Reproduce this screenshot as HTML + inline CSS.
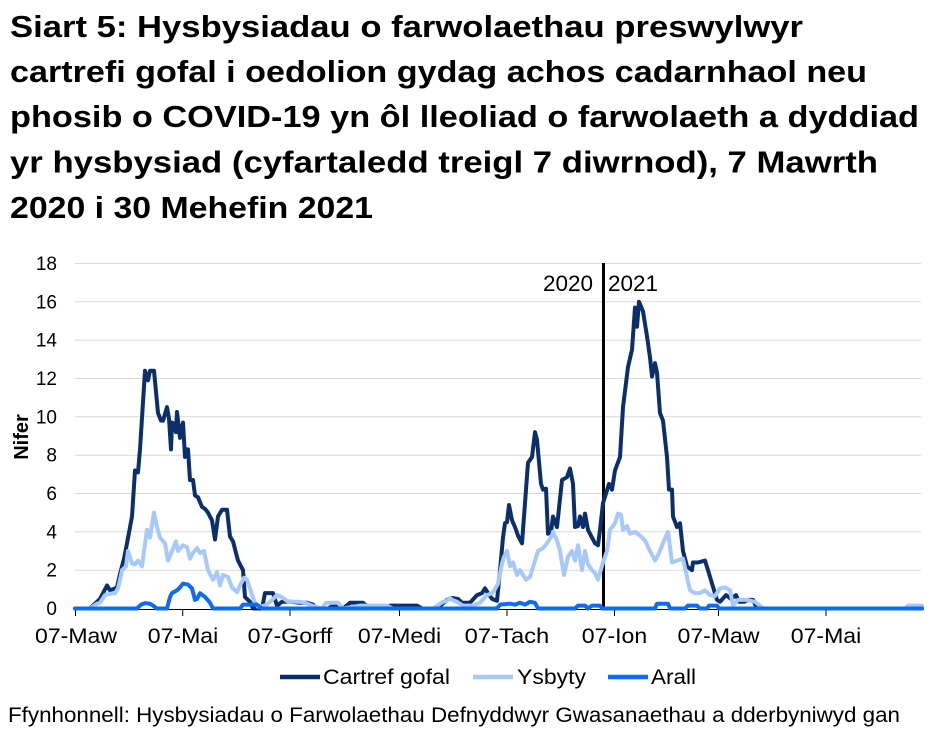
<!DOCTYPE html>
<html><head><meta charset="utf-8"><style>
html,body{margin:0;padding:0;background:#fff;}
svg{display:block;}
text{font-family:"Liberation Sans",Arial,sans-serif;fill:#000;}
</style></head><body>
<svg width="931" height="736" viewBox="0 0 931 736" xmlns="http://www.w3.org/2000/svg">
<rect width="931" height="736" fill="#fff"/>
<!-- Title -->
<g font-weight="bold" font-size="31">
<text x="10" y="37" textLength="793" lengthAdjust="spacingAndGlyphs">Siart 5: Hysbysiadau o farwolaethau preswylwyr</text>
<text x="10" y="82" textLength="857" lengthAdjust="spacingAndGlyphs">cartrefi gofal i oedolion gydag achos cadarnhaol neu</text>
<text x="10" y="127" textLength="909" lengthAdjust="spacingAndGlyphs">phosib o COVID-19 yn ôl lleoliad o farwolaeth a dyddiad</text>
<text x="10" y="172.5" textLength="868" lengthAdjust="spacingAndGlyphs">yr hysbysiad (cyfartaledd treigl 7 diwrnod), 7 Mawrth</text>
<text x="10" y="218" textLength="363" lengthAdjust="spacingAndGlyphs">2020 i 30 Mehefin 2021</text>
</g>
<!-- gridlines -->
<g stroke="#d9d9d9" stroke-width="1">
<line x1="75" x2="921" y1="263.5" y2="263.5"/>
<line x1="75" x2="921" y1="301.8" y2="301.8"/>
<line x1="75" x2="921" y1="340.2" y2="340.2"/>
<line x1="75" x2="921" y1="378.5" y2="378.5"/>
<line x1="75" x2="921" y1="416.8" y2="416.8"/>
<line x1="75" x2="921" y1="455.2" y2="455.2"/>
<line x1="75" x2="921" y1="493.5" y2="493.5"/>
<line x1="75" x2="921" y1="531.8" y2="531.8"/>
<line x1="75" x2="921" y1="570.2" y2="570.2"/>
</g>
<!-- y tick labels -->
<g font-size="19" text-anchor="end">
<text x="57" y="270">18</text>
<text x="57" y="308.3">16</text>
<text x="57" y="346.7">14</text>
<text x="57" y="385">12</text>
<text x="57" y="423.3">10</text>
<text x="57" y="461.7">8</text>
<text x="57" y="500">6</text>
<text x="57" y="538.3">4</text>
<text x="57" y="576.7">2</text>
<text x="57" y="615">0</text>
</g>
<text font-size="20" font-weight="bold" text-anchor="middle" transform="translate(28,437) rotate(-90)">Nifer</text>
<!-- x axis -->
<line x1="75" x2="922" y1="609.5" y2="609.5" stroke="#000" stroke-width="1"/>
<g stroke="#000" stroke-width="1">
<line x1="75.5" x2="75.5" y1="609" y2="616"/>
<line x1="182.7" x2="182.7" y1="609" y2="616"/>
<line x1="290" x2="290" y1="609" y2="616"/>
<line x1="399.5" x2="399.5" y1="609" y2="616"/>
<line x1="507" x2="507" y1="609" y2="616"/>
<line x1="614.5" x2="614.5" y1="609" y2="616"/>
<line x1="718.5" x2="718.5" y1="609" y2="616"/>
<line x1="826" x2="826" y1="609" y2="616"/>
</g>
<g font-size="21" text-anchor="middle">
<text x="76" y="643" textLength="82" lengthAdjust="spacingAndGlyphs">07-Maw</text>
<text x="183" y="643" textLength="70.5" lengthAdjust="spacingAndGlyphs">07-Mai</text>
<text x="290" y="643" textLength="84.6" lengthAdjust="spacingAndGlyphs">07-Gorff</text>
<text x="399.5" y="643" textLength="83.3" lengthAdjust="spacingAndGlyphs">07-Medi</text>
<text x="507" y="643" textLength="84.6" lengthAdjust="spacingAndGlyphs">07-Tach</text>
<text x="614.5" y="643" textLength="65.4" lengthAdjust="spacingAndGlyphs">07-Ion</text>
<text x="718.5" y="643" textLength="82" lengthAdjust="spacingAndGlyphs">07-Maw</text>
<text x="826" y="643" textLength="70.5" lengthAdjust="spacingAndGlyphs">07-Mai</text>
</g>
<!-- year divider -->
<line x1="603.5" x2="603.5" y1="263" y2="609" stroke="#000" stroke-width="3"/>
<text x="593" y="291" font-size="22" text-anchor="end" textLength="50" lengthAdjust="spacingAndGlyphs">2020</text>
<text x="608" y="291" font-size="22" textLength="50" lengthAdjust="spacingAndGlyphs">2021</text>
<!-- series -->
<g transform="translate(0,608.5) scale(1,-19.17)" fill="none" stroke-linejoin="round" stroke-linecap="round">
<polyline vector-effect="non-scaling-stroke" stroke="#0a2f6b" stroke-width="4" points="75,0 90,0 100,0.5 107,1.2 110,0.95 113,1.0 117,1.1 120,1.8 124,2.6 127,3.4 132,4.8 135,7.2 138,7.1 140,8.3 145,12.4 148,11.9 150,12.4 154,12.4 158,10.2 161,9.8 163,9.8 167,10.5 169,9.9 171,8.3 172,9.7 174,9.65 176,9.2 177,10.25 180,8.9 183,9.7 185,7.9 187,8.3 188,8.3 190,6.7 193,6.7 195,5.9 198,5.8 202,5.3 205,5.2 208,5.0 212,4.6 215,3.6 218,4.8 222,5.15 227,5.15 230,3.75 233,3.5 238,2.5 243,2.0 245,0.6 250,0.35 253,0 262,0 265,0.8 273,0.8 277,0.15 282,0.35 290,0.35 300,0.3 307,0.3 313,0.2 317,0 328,0 333,0.15 343,0 350,0.3 363,0.3 370,0 385,0 390,0.15 417,0.15 422,0 437,0 447,0.45 452,0.55 458,0.5 462,0.3 470,0.3 477,0.7 482,0.8 485,1.05 488,0.8 492,0.5 497,0.4 500,2.0 503,3.7 505,4.45 507,4.5 509,5.4 512,4.6 515,4.25 518,3.8 522,3.4 525,5.5 528,7.6 532,7.9 535,9.2 537,8.8 541,6.5 543,6.2 546,6.25 548,3.9 551,4.0 553,4.8 557,4.25 562,6.7 567,6.85 570,7.3 573,6.5 575,4.25 578,4.3 580,4.8 583,4.25 585,4.95 588,4.1 592,3.7 595,3.4 598,3.3 600,4.1 603,5.5 606,6.0 609,6.5 612,6.2 615,7.2 620,7.9 623,10.5 628,12.6 632,13.5 635,15.7 637,14.7 639,16.0 643,15.5 647,14.2 650,13.1 652,12.1 655,12.8 657,12.3 660,10.2 663,9.8 667,7.9 669,6.2 672,6.2 673,4.8 677,4.25 680,4.45 683,3.0 687,2.2 692,2.0 693,2.4 698,2.4 705,2.5 708,2.0 712,1.3 717,0.45 720,0.35 726,0.7 731,0.5 736,0.7 739,0.35 744,0.35 748,0.45 753,0.45 757,0 922,0"/>
<polyline vector-effect="non-scaling-stroke" stroke="#a6c8fa" stroke-width="4" points="75,0 90,0 97,0.25 100,0.3 105,0.7 113,0.8 115,0.8 118,1.05 120,1.5 122,2.0 126,2.2 128,3.0 132,2.35 135,2.3 138,2.5 142,2.2 144,3.0 147,4.1 150,3.7 154,5.0 157,4.25 160,3.7 165,3.4 168,2.5 172,3.0 176,3.5 178,3.0 183,3.3 187,3.2 190,2.6 193,2.9 197,3.15 200,2.9 204,3.0 208,2.0 213,1.5 217,1.9 220,1.2 223,1.75 228,1.65 232,1.1 237,0.85 240,1.2 244,1.6 247,1.5 250,1.05 252,0.7 255,0.3 258,0.1 265,0.15 270,0.35 277,0.7 283,0.55 288,0.35 295,0.35 300,0.35 305,0.3 312,0.15 322,0 326,0.3 338,0.3 343,0 360,0.15 377,0.15 387,0.15 393,0 433,0 437,0.15 443,0.35 447,0.4 450,0.55 452,0.45 457,0.35 463,0.15 473,0.15 480,0.3 487,0.7 492,0.8 495,1.0 498,1.3 502,2.35 504,2.7 507,3.0 510,2.2 513,2.4 517,1.75 520,2.0 523,1.75 526,1.5 530,1.65 535,2.5 538,3.0 543,3.15 547,3.4 552,3.8 553,4.0 557,3.55 560,3.0 564,1.75 568,2.7 572,3.0 575,2.5 578,3.3 582,2.0 585,3.0 588,2.3 592,2.0 595,1.85 598,1.5 603,2.4 607,3.0 610,4.1 615,4.45 618,4.95 621,4.9 623,4.1 627,4.3 630,3.9 635,4.0 640,3.8 645,3.55 650,3.0 655,2.5 659,2.9 663,3.4 668,4.0 672,2.4 677,2.5 683,2.6 687,1.65 690,0.95 695,0.8 700,0.8 705,0.95 710,0.7 715,0.65 720,1.05 725,1.1 730,0.95 733,0.15 738,0.45 747,0.45 755,0.35 760,0.15 763,0 905,0 908,0.15 922,0.15"/>
<polyline vector-effect="non-scaling-stroke" stroke="#0d6bf5" stroke-width="4" points="75,0 137,0 141,0.2 145,0.28 150,0.25 153,0.15 157,0 167,0 170,0.6 172,0.8 177,0.95 180,1.1 183,1.3 188,1.25 192,1.05 195,0.45 197,0.5 200,0.8 205,0.6 210,0.3 213,0 240,0 243,0.2 257,0.2 262,0 497,0 500,0.2 510,0.25 515,0.2 520,0.3 525,0.2 530,0.35 535,0.3 538,0 575,0 578,0.15 585,0.15 588,0 592,0.15 600,0.15 602,0 655,0 657,0.25 668,0.25 670,0 685,0 688,0.15 697,0.15 700,0 707,0 709,0.15 717,0.15 719,0 922,0"/>
</g>
<!-- legend -->
<line x1="280" x2="320" y1="677" y2="677" stroke="#0a2f6b" stroke-width="4.5"/>
<text x="323" y="684" font-size="21" textLength="127" lengthAdjust="spacingAndGlyphs">Cartref gofal</text>
<line x1="473" x2="513" y1="677" y2="677" stroke="#a6c8fa" stroke-width="4.5"/>
<text x="517" y="684" font-size="21" textLength="69" lengthAdjust="spacingAndGlyphs">Ysbyty</text>
<line x1="608" x2="648" y1="677" y2="677" stroke="#0d6bf5" stroke-width="4.5"/>
<text x="651" y="684" font-size="21" textLength="45" lengthAdjust="spacingAndGlyphs">Arall</text>
<!-- source -->
<text x="8" y="722" font-size="21" textLength="892" lengthAdjust="spacingAndGlyphs">Ffynhonnell: Hysbysiadau o Farwolaethau Defnyddwyr Gwasanaethau a dderbyniwyd gan</text>
</svg>
</body></html>
